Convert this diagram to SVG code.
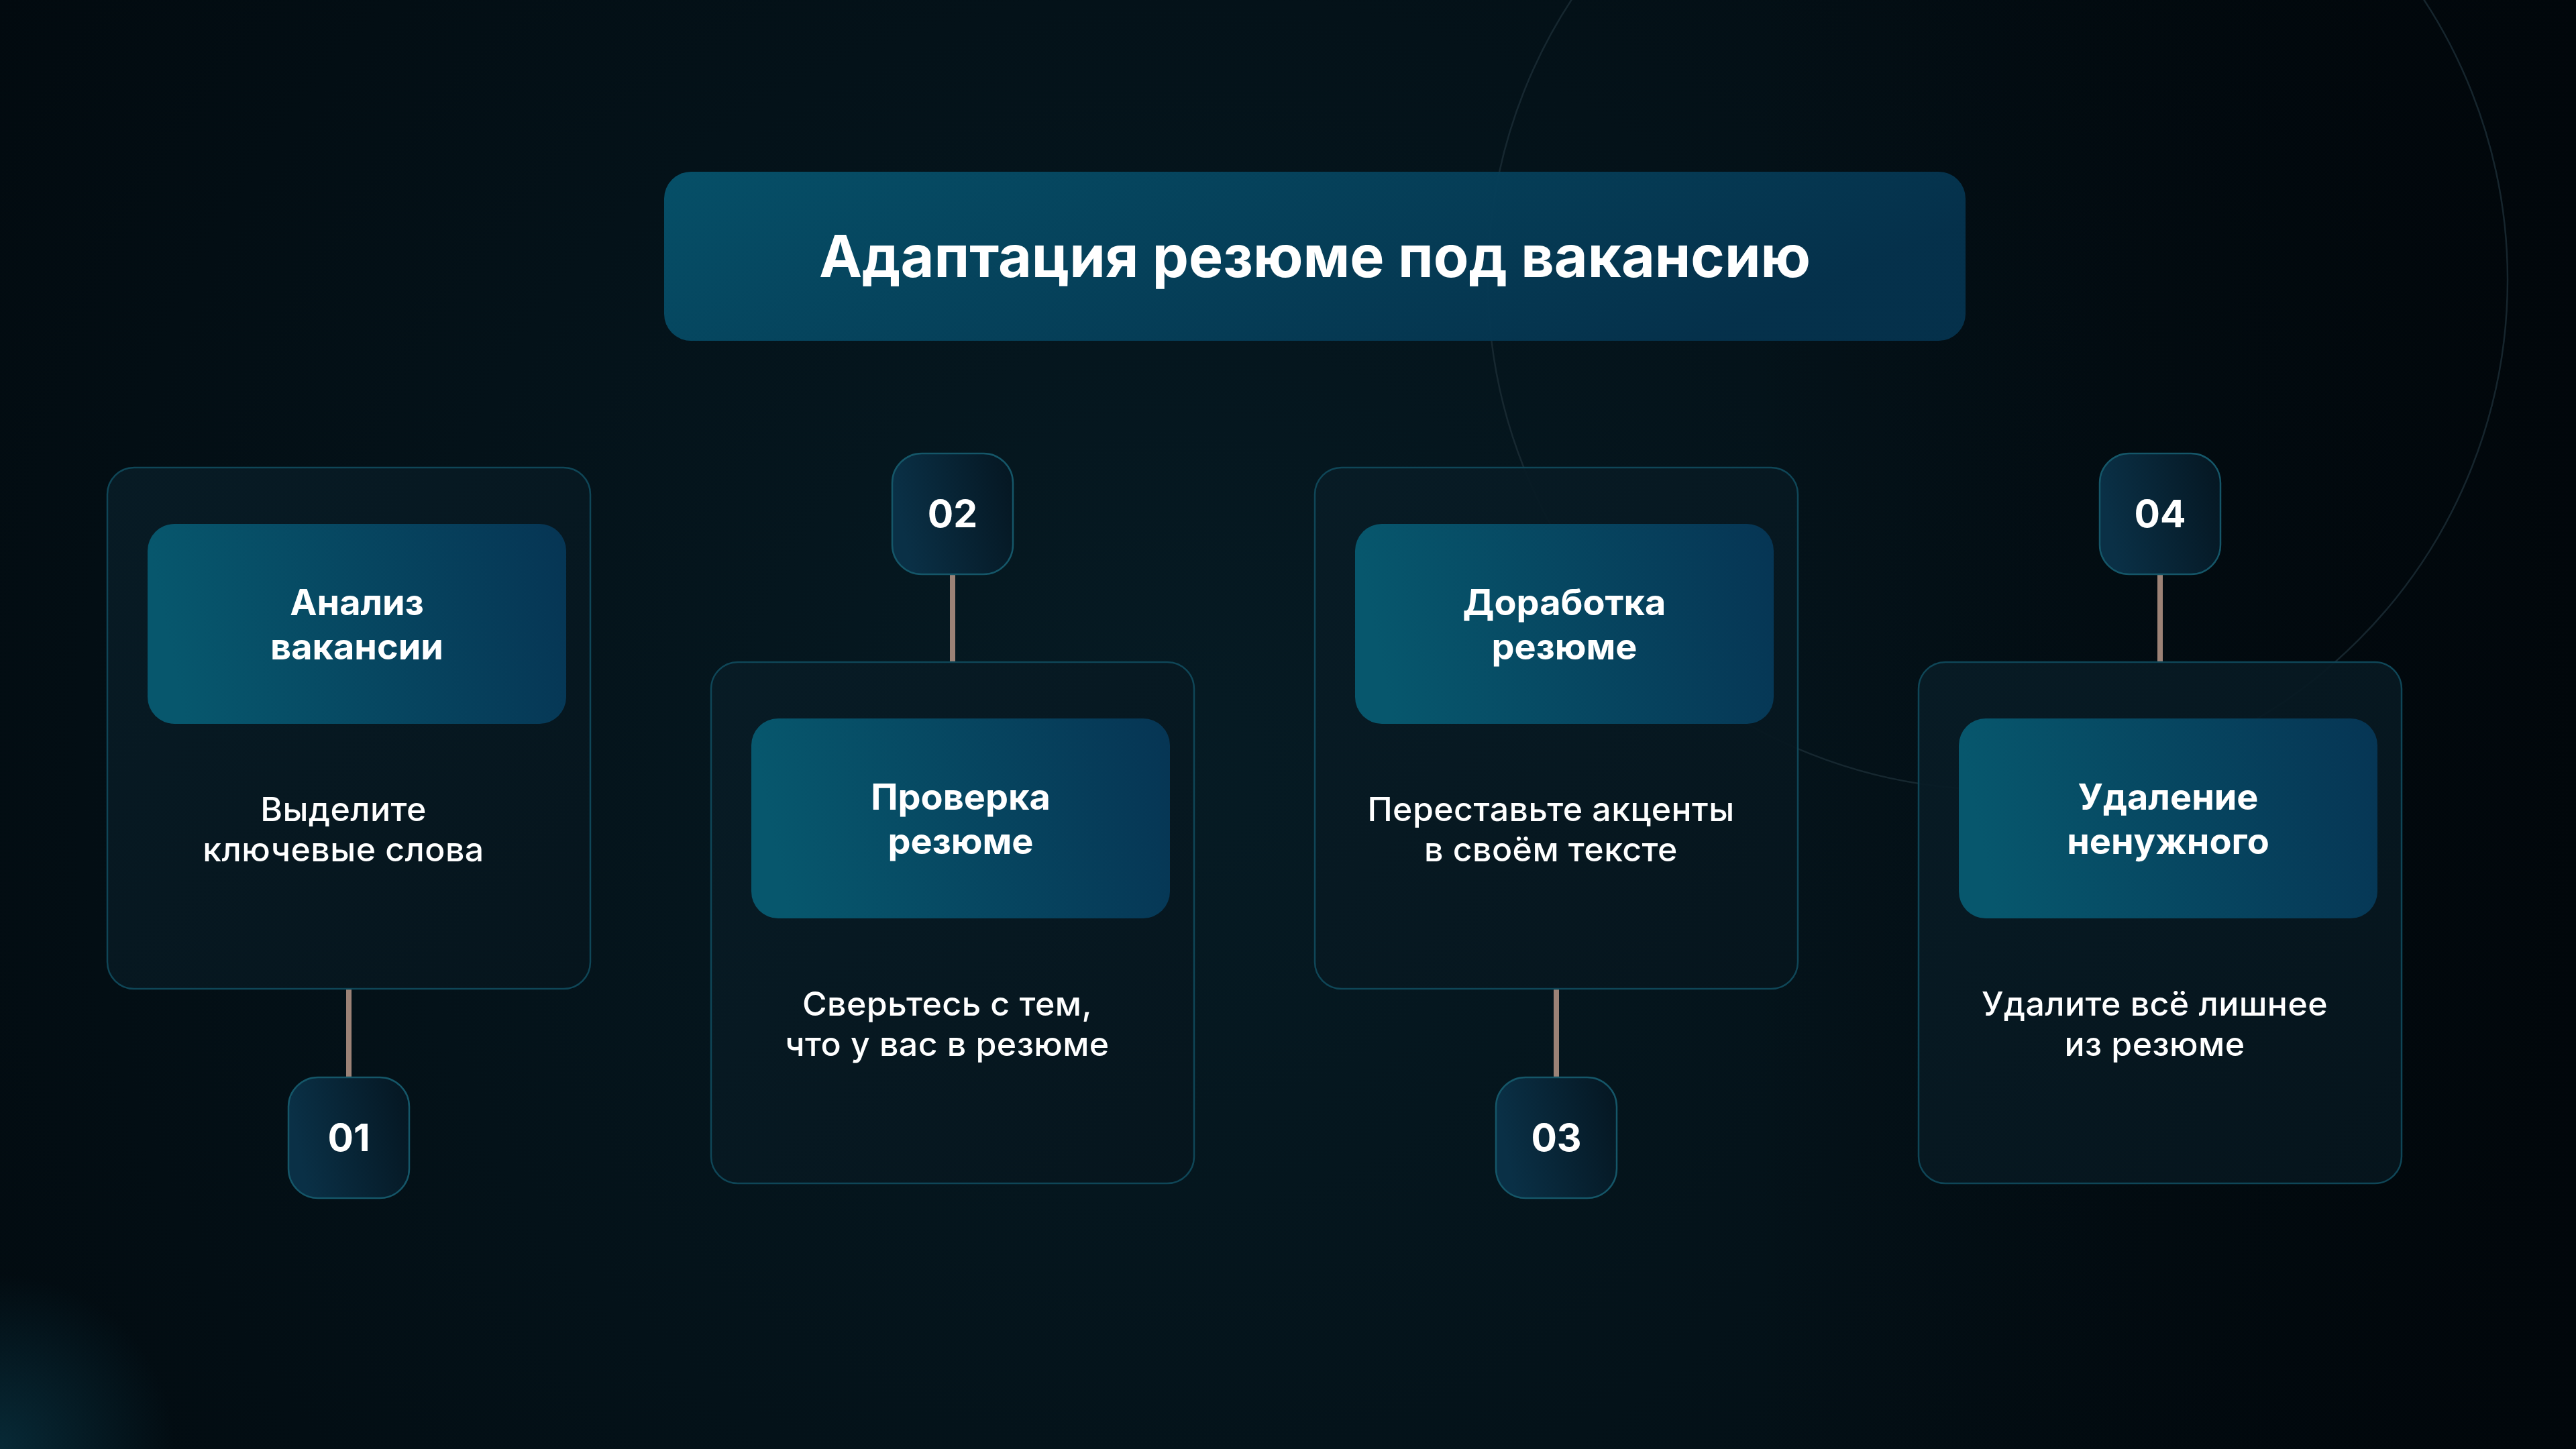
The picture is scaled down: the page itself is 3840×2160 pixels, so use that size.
<svg xmlns="http://www.w3.org/2000/svg" width="3840" height="2160" viewBox="0 0 3840 2160">
  <defs>
    <radialGradient id="bgMain" cx="1750" cy="1150" r="2100" gradientUnits="userSpaceOnUse">
      <stop offset="0" stop-color="#061b24"/>
      <stop offset="0.55" stop-color="#041219"/>
      <stop offset="1" stop-color="#020a0f"/>
    </radialGradient>
    <linearGradient id="bgRight" x1="2600" y1="0" x2="3840" y2="0" gradientUnits="userSpaceOnUse">
      <stop offset="0" stop-color="#01060a" stop-opacity="0"/>
      <stop offset="1" stop-color="#01060a" stop-opacity="0.75"/>
    </linearGradient>
    <radialGradient id="glowBL" cx="0" cy="2160" r="260" gradientUnits="userSpaceOnUse">
      <stop offset="0" stop-color="#0b3e50" stop-opacity="0.6"/>
      <stop offset="1" stop-color="#0b3e50" stop-opacity="0"/>
    </radialGradient>
    <linearGradient id="gTitle" x1="0" y1="0" x2="1" y2="0.3">
      <stop offset="0" stop-color="#06526b"/>
      <stop offset="1" stop-color="#05324d"/>
    </linearGradient>
    <linearGradient id="gInner" x1="0" y1="0.1" x2="1" y2="0">
      <stop offset="0" stop-color="#07576d"/>
      <stop offset="1" stop-color="#063554"/>
    </linearGradient>
    <linearGradient id="gCard" x1="0" y1="0" x2="1" y2="1">
      <stop offset="0" stop-color="#081c26"/>
      <stop offset="1" stop-color="#06151d"/>
    </linearGradient>
    <linearGradient id="gBadge" x1="0" y1="0.2" x2="1" y2="0">
      <stop offset="0" stop-color="#0a3046"/>
      <stop offset="1" stop-color="#051621"/>
    </linearGradient>
    <style>
      .card { fill: url(#gCard); fill-opacity: 0.93; stroke: #0f4657; stroke-width: 2.5; }
      .inner { fill: url(#gInner); }
      .badge { fill: url(#gBadge); stroke: #155668; stroke-width: 2.5; }
      .conn { stroke: #9c8276; stroke-width: 8; fill: none; }
      .t { font-family: Inter, "Noto Sans", "Liberation Sans", sans-serif; fill: #ffffff; text-anchor: middle; }
      .title { font-size: 86px; font-weight: 700; }
      .head { font-size: 54px; font-weight: 700; }
      .desc { font-size: 50px; font-weight: 500; letter-spacing: 0.45px; }
      .num { font-size: 57px; font-weight: 700; }
    </style>
  </defs>

  <!-- background -->
  <rect x="0" y="0" width="3840" height="2160" fill="url(#bgMain)"/>
  <rect x="0" y="0" width="3840" height="2160" fill="url(#bgRight)"/>
  <rect x="0" y="1800" width="360" height="360" fill="url(#glowBL)"/>
  <circle cx="2978" cy="417" r="760" fill="none" stroke="#1b2d36" stroke-width="2.5" stroke-opacity="0.8"/>

  <!-- title -->
  <g id="title">
    <rect x="990" y="256" width="1940" height="252" rx="40" fill="url(#gTitle)" fill-opacity="0.96"/>
    <text class="t title" x="1960" y="413">Адаптация резюме под вакансию</text>
  </g>

  <!-- connectors -->
  <g id="connectors">
    <line class="conn" x1="520" y1="1475" x2="520" y2="1606"/>
    <line class="conn" x1="1420" y1="856" x2="1420" y2="987"/>
    <line class="conn" x1="2320" y1="1475" x2="2320" y2="1606"/>
    <line class="conn" x1="3220" y1="856" x2="3220" y2="987"/>
  </g>

  <!-- card 1 -->
  <g id="card1">
    <rect class="card" x="160" y="697" width="720" height="777" rx="40"/>
    <rect class="inner" x="220" y="781" width="624" height="298" rx="40"/>
    <text class="t head" x="532" y="917">Анализ</text>
    <text class="t head" x="532" y="983">вакансии</text>
    <text class="t desc" x="512" y="1224">Выделите</text>
    <text class="t desc" x="512" y="1284">ключевые слова</text>
  </g>
  <g id="badge1">
    <rect class="badge" x="430" y="1606" width="180" height="180" rx="44"/>
    <text class="t num" x="520" y="1716">01</text>
  </g>

  <!-- card 2 -->
  <g id="card2">
    <rect class="card" x="1060" y="987" width="720" height="777" rx="40"/>
    <rect class="inner" x="1120" y="1071" width="624" height="298" rx="40"/>
    <text class="t head" x="1432" y="1207">Проверка</text>
    <text class="t head" x="1432" y="1273">резюме</text>
    <text class="t desc" x="1412" y="1514">Сверьтесь с тем,</text>
    <text class="t desc" x="1412" y="1574">что у вас в резюме</text>
  </g>
  <g id="badge2">
    <rect class="badge" x="1330" y="676" width="180" height="180" rx="44"/>
    <text class="t num" x="1420" y="786">02</text>
  </g>

  <!-- card 3 -->
  <g id="card3">
    <rect class="card" x="1960" y="697" width="720" height="777" rx="40"/>
    <rect class="inner" x="2020" y="781" width="624" height="298" rx="40"/>
    <text class="t head" x="2332" y="917">Доработка</text>
    <text class="t head" x="2332" y="983">резюме</text>
    <text class="t desc" x="2312" y="1224">Переставьте акценты</text>
    <text class="t desc" x="2312" y="1284">в своём тексте</text>
  </g>
  <g id="badge3">
    <rect class="badge" x="2230" y="1606" width="180" height="180" rx="44"/>
    <text class="t num" x="2320" y="1716">03</text>
  </g>

  <!-- card 4 -->
  <g id="card4">
    <rect class="card" x="2860" y="987" width="720" height="777" rx="40"/>
    <rect class="inner" x="2920" y="1071" width="624" height="298" rx="40"/>
    <text class="t head" x="3232" y="1207">Удаление</text>
    <text class="t head" x="3232" y="1273">ненужного</text>
    <text class="t desc" x="3212" y="1514">Удалите всё лишнее</text>
    <text class="t desc" x="3212" y="1574">из резюме</text>
  </g>
  <g id="badge4">
    <rect class="badge" x="3130" y="676" width="180" height="180" rx="44"/>
    <text class="t num" x="3220" y="786">04</text>
  </g>
</svg>
